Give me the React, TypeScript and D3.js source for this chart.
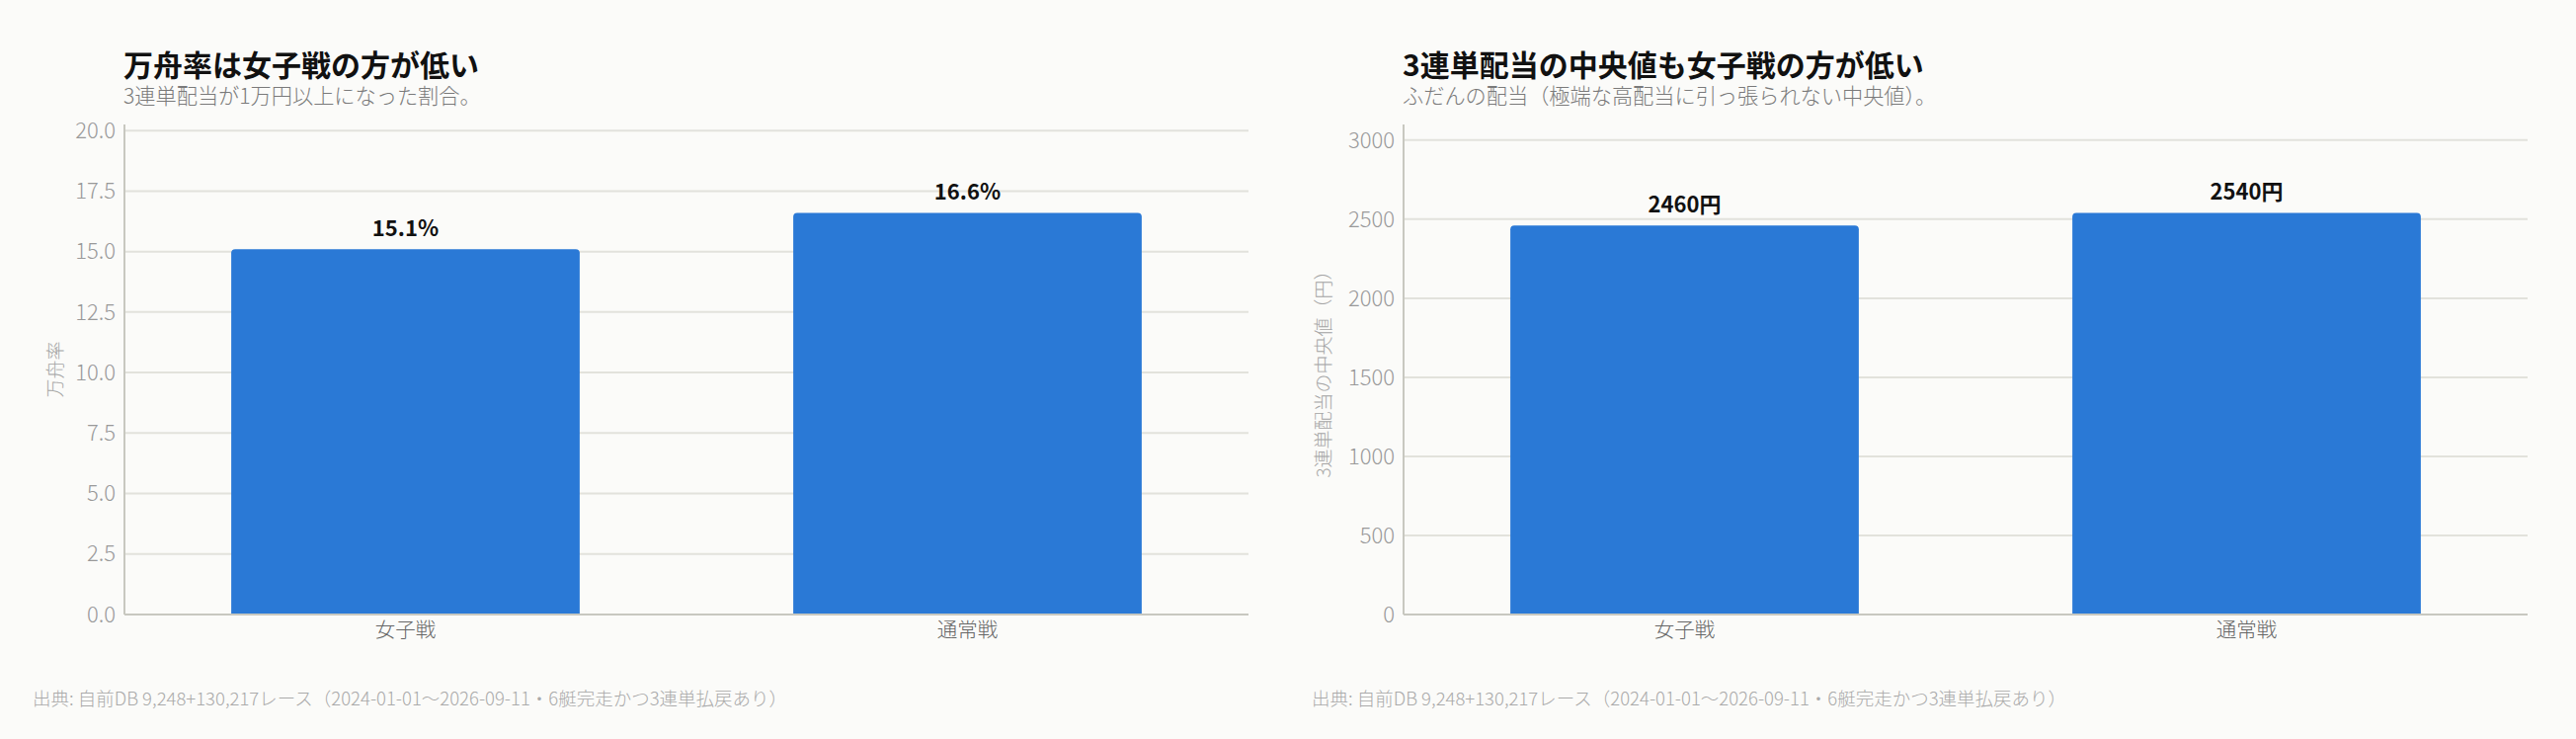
import React, { useEffect, useRef } from 'react';
import * as d3 from 'd3';

// categories and values
const categories = ['女子戦', '通常戦'];
const upsetRates = [15.1, 16.6];
const medianPayouts = [2460, 2540];
const rateTicks = [0, 2.5, 5, 7.5, 10, 12.5, 15, 17.5, 20];
const payoutTicks = [0, 500, 1000, 1500, 2000, 2500, 3000];

const FONT = '"Noto Sans CJK JP", "Noto Sans", sans-serif';
const BG = '#fbfbf9';
const BAR = '#2a79d6';
const FOOTER = '出典: 自前DB 9,248+130,217レース（2024-01-01〜2026-09-11・6艇完走かつ3連単払戻あり）';

const panels = [
  {
    offset: 0,
    title: '万舟率は女子戦の方が低い',
    subtitle: '3連単配当が1万円以上になった割合。',
    yLabel: '万舟率',
    values: upsetRates,
    ticks: rateTicks,
    tickFmt: (d) => d3.format('.1f')(d),
    labelFmt: (d) => `${d.toFixed(1)}%`,
  },
  {
    offset: 1295,
    title: '3連単配当の中央値も女子戦の方が低い',
    subtitle: 'ふだんの配当（極端な高配当に引っ張られない中央値）。',
    yLabel: '3連単配当の中央値（円）',
    values: medianPayouts,
    ticks: payoutTicks,
    tickFmt: (d) => String(d),
    labelFmt: (d) => `${d}円`,
  },
];

const App = () => {
  const ref = useRef(null);

  useEffect(() => {
    if (!ref.current) return;
    const root = d3.select(ref.current);
    root.selectAll('*').remove();

    const svg = root
      .append('svg')
      .attr('width', 2608)
      .attr('height', 748)
      .style('position', 'absolute')
      .style('left', 0)
      .style('top', 0)
      .style('font-family', FONT);

    svg.append('rect').attr('width', 2608).attr('height', 748).attr('fill', BG);

    const left = 126;
    const width = 1138;
    const top = 126;
    const bottom = 622;

    panels.forEach((p) => {
      const g = svg.append('g').attr('transform', `translate(${p.offset},0)`);

      const x = d3
        .scaleBand()
        .domain(categories)
        .range([left, left + width])
        .paddingInner(0.38)
        .paddingOuter(0.19);

      const y = d3
        .scaleLinear()
        .domain([0, d3.max(p.values) * 1.22])
        .range([bottom, top]);

      // gridlines
      g.append('g')
        .selectAll('line')
        .data(p.ticks)
        .enter()
        .append('line')
        .attr('x1', left)
        .attr('x2', left + width)
        .attr('y1', (d) => y(d))
        .attr('y2', (d) => y(d))
        .attr('stroke', '#e2e2dc')
        .attr('stroke-width', 2);

      // y tick labels
      g.append('g')
        .selectAll('text')
        .data(p.ticks)
        .enter()
        .append('text')
        .attr('x', left - 9)
        .attr('y', (d) => y(d))
        .attr('dy', '0.35em')
        .attr('text-anchor', 'end')
        .attr('fill', '#999')
        .style('font-size', '22px')
        .style('font-weight', 300)
        .text(p.tickFmt);

      // bars with slightly rounded tops
      g.append('g')
        .selectAll('path')
        .data(p.values)
        .enter()
        .append('path')
        .attr('d', (d, i) => {
          const x0 = x(categories[i]);
          const w = x.bandwidth();
          const y0 = y(d);
          const r = 4;
          return `M${x0},${bottom}V${y0 + r}Q${x0},${y0} ${x0 + r},${y0}H${x0 + w - r}Q${x0 + w},${y0} ${x0 + w},${y0 + r}V${bottom}Z`;
        })
        .attr('fill', BAR);

      // value labels
      g.append('g')
        .selectAll('text')
        .data(p.values)
        .enter()
        .append('text')
        .attr('x', (d, i) => x(categories[i]) + x.bandwidth() / 2)
        .attr('y', (d) => y(d) - 13)
        .attr('text-anchor', 'middle')
        .attr('fill', '#111')
        .style('font-size', '22px')
        .style('font-weight', 700)
        .text(p.labelFmt);

      // spines
      g.append('line')
        .attr('x1', left)
        .attr('x2', left)
        .attr('y1', top)
        .attr('y2', bottom)
        .attr('stroke', '#c8c8c0')
        .attr('stroke-width', 2);
      g.append('line')
        .attr('x1', left)
        .attr('x2', left + width)
        .attr('y1', bottom)
        .attr('y2', bottom)
        .attr('stroke', '#c8c8c0')
        .attr('stroke-width', 2);

      // x category labels
      g.append('g')
        .selectAll('text')
        .data(categories)
        .enter()
        .append('text')
        .attr('x', (d) => x(d) + x.bandwidth() / 2)
        .attr('y', 645)
        .attr('text-anchor', 'middle')
        .attr('fill', '#666')
        .style('font-size', '20.5px')
        .style('font-weight', 300)
        .text((d) => d);

      // y axis title
      g.append('text')
        .attr('transform', `translate(${p.offset === 0 ? 63 : 52},${(top + bottom) / 2}) rotate(-90)`)
        .attr('text-anchor', 'middle')
        .attr('fill', '#a5a5a5')
        .style('font-size', '19px')
        .style('font-weight', 300)
        .text(p.yLabel);

      // title + subtitle
      g.append('text')
        .attr('x', left - 1)
        .attr('y', 77)
        .attr('fill', '#111')
        .style('font-size', '30px')
        .style('font-weight', 700)
        .text(p.title);
      g.append('text')
        .attr('x', left - 1)
        .attr('y', 105)
        .attr('fill', '#7a7a7a')
        .style('font-size', '21.2px')
        .style('font-weight', 300)
        .text(p.subtitle);

      // footer
      g.append('text')
        .attr('x', 33)
        .attr('y', 714)
        .attr('fill', '#aaa')
        .style('font-size', '18.5px')
        .style('font-weight', 300)
        .text(FOOTER);
    });
  }, []);

  return <div ref={ref} />;
};

export default App;
